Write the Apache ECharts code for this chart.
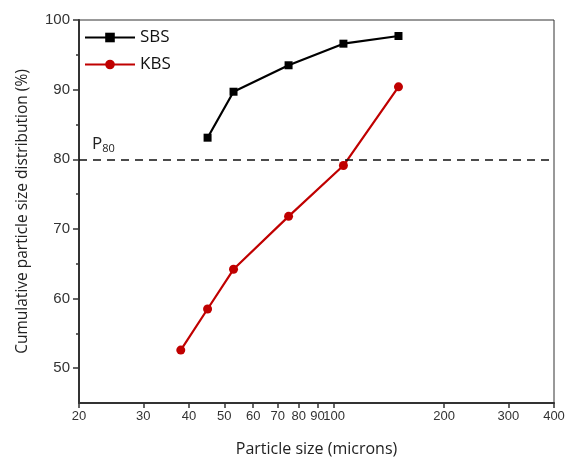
<!DOCTYPE html>
<html>
<head>
<meta charset="utf-8">
<script src="https://cdn.jsdelivr.net/npm/echarts@6/dist/echarts.min.js"></script>
<style>
  html, body { margin: 0; padding: 0; background: #fff; }
  #chart { width: 571px; height: 458px; }
</style>
</head>
<body>
<div id="chart"></div>
<script>
// particle size (microns) and cumulative passing (%)
var sbsSizes = [45, 53, 75, 106, 150];
var sbsValues = [83.1, 89.7, 93.5, 96.6, 97.7];
var kbsSizes = [38, 45, 53, 75, 106, 150];
var kbsValues = [52.6, 58.5, 64.2, 71.8, 79.1, 90.4];
var xTicks = [20, 30, 40, 50, 60, 70, 80, 90, 100, 200, 300, 400];
var yTicks = [50, 60, 70, 80, 90, 100];
var yMinorTicks = [55, 65, 75, 85, 95];
var p80 = 80;

function pairs(xs, ys) {
  var out = [];
  for (var i = 0; i < xs.length; i++) {
    out.push([xs[i], ys[i]]);
  }
  return out;
}

var chart = echarts.init(document.getElementById('chart'), null, { renderer: 'canvas' });

var labelFont = 'Liberation Sans, Arial, sans-serif';
var nameFont = 'Open Sans, Noto Sans, sans-serif';

var option = {
  backgroundColor: '#fff',
  animation: false,
  grid: {
    left: 79, right: 17, top: 20, bottom: 55,
    outerBoundsMode: 'none', containLabel: false,
    show: true, borderColor: '#333', borderWidth: 1
  },
  legend: {
    left: 79, top: 24, orient: 'vertical', itemGap: 10,
    itemWidth: 50, itemHeight: 12,
    textStyle: { fontFamily: nameFont, fontSize: 17, color: '#111' },
    data: ['SBS', 'KBS']
  },
  xAxis: {
    type: 'log', logBase: 10, min: 20, max: 400,
    name: 'Particle size (microns)', nameLocation: 'middle', nameGap: 38,
    nameTextStyle: { fontFamily: nameFont, fontSize: 16, color: '#222' },
    axisLine: { show: true, lineStyle: { color: '#333', width: 2 } },
    axisTick: { show: true, length: 5, customValues: xTicks, lineStyle: { color: '#333', width: 1.5 } },
    axisLabel: { customValues: xTicks, fontFamily: labelFont, fontSize: 13, color: '#333', margin: 7 },
    splitLine: { show: false },
    minorTick: { show: false }
  },
  yAxis: [{
    type: 'value', min: 45, max: 100,
    name: 'Cumulative particle size distribution (%)', nameLocation: 'middle', nameGap: 48,
    nameTextStyle: { fontFamily: nameFont, fontSize: 15.5, color: '#222' },
    axisLine: { show: true, lineStyle: { color: '#333', width: 2 } },
    axisTick: { show: true, length: 6, customValues: yTicks, lineStyle: { color: '#333', width: 1.5 } },
    axisLabel: { customValues: yTicks, fontFamily: labelFont, fontSize: 15, color: '#333', margin: 9 },
    splitLine: { show: false }
  }, {
    type: 'value', min: 45, max: 100, position: 'left',
    axisLine: { show: false },
    axisTick: { show: true, length: 3, customValues: yMinorTicks, lineStyle: { color: '#333', width: 1.5 } },
    axisLabel: { show: false },
    splitLine: { show: false }
  }],
  series: [{
    name: 'SBS', type: 'line',
    data: pairs(sbsSizes, sbsValues),
    symbol: 'rect', symbolSize: 8,
    lineStyle: { color: '#000', width: 2.2 },
    itemStyle: { color: '#000' },
    markLine: {
      silent: true, symbol: 'none',
      lineStyle: { color: '#111', type: [8, 6], width: 1.5 },
      label: {
        show: true, position: 'insideStartTop', distance: [13, 5],
        formatter: '{p|P}{s|80}',
        rich: {
          p: { fontFamily: nameFont, fontSize: 17, color: '#222' },
          s: { fontFamily: nameFont, fontSize: 11, color: '#222', verticalAlign: 'bottom', padding: [9, 0, 0, 0] }
        }
      },
      data: [{ yAxis: p80 }]
    }
  }, {
    name: 'KBS', type: 'line',
    data: pairs(kbsSizes, kbsValues),
    symbol: 'circle', symbolSize: 9,
    lineStyle: { color: '#c00000', width: 2.2 },
    itemStyle: { color: '#c00000' }
  }]
};

chart.setOption(option);
</script>
</body>
</html>
